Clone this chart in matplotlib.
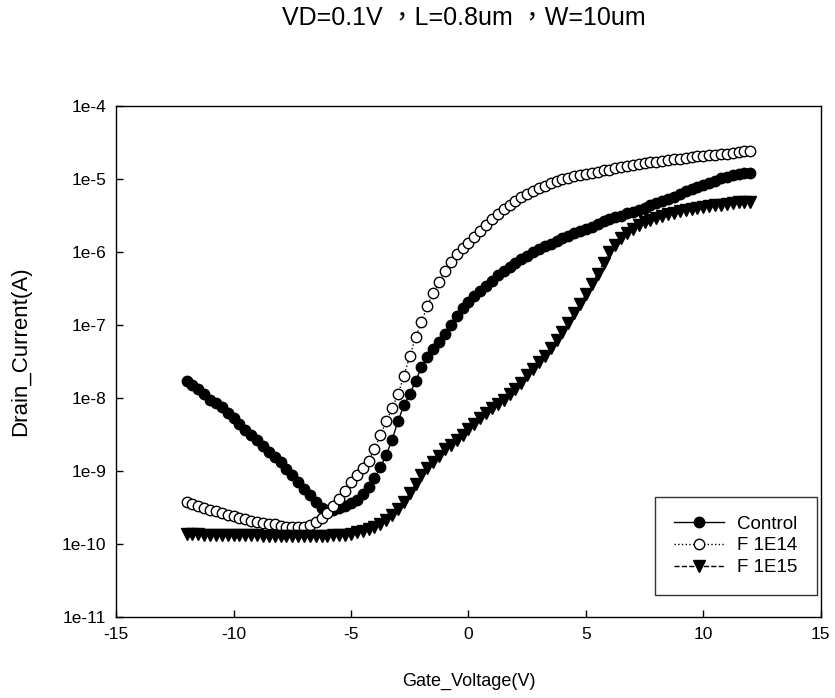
import matplotlib
matplotlib.use('Agg')
import matplotlib.pyplot as plt
from matplotlib.ticker import FixedLocator, FuncFormatter
import numpy as np

plt.rcParams['font.family'] = ['Liberation Sans', 'Noto Sans CJK TC', 'DejaVu Sans']
plt.rcParams['axes.unicode_minus'] = False

# gate sweep, -12 V .. 12 V in 0.25 V steps
gate_voltage = np.arange(-12, 12.001, 0.25)

# log10 of drain current (A), one row per volt
control_log = [
    -7.76, -7.82, -7.88, -7.95,
    -8.02, -8.07, -8.12, -8.20,
    -8.28, -8.36, -8.44, -8.51,
    -8.58, -8.66, -8.74, -8.81,
    -8.88, -8.97, -9.06, -9.15,
    -9.24, -9.33, -9.43, -9.51,
    -9.54, -9.53, -9.51, -9.48,
    -9.44, -9.39, -9.32, -9.22,
    -9.10, -8.95, -8.78, -8.57,
    -8.32, -8.10, -7.95, -7.77,
    -7.58, -7.44, -7.33, -7.23,
    -7.12, -7.00, -6.88, -6.77,
    -6.68, -6.60, -6.53, -6.46,
    -6.39, -6.32, -6.26, -6.20,
    -6.15, -6.10, -6.05, -6.00,
    -5.96, -5.92, -5.89, -5.85,
    -5.81, -5.78, -5.74, -5.71,
    -5.68, -5.65, -5.62, -5.58,
    -5.55, -5.52, -5.50, -5.47,
    -5.45, -5.42, -5.39, -5.36,
    -5.33, -5.30, -5.27, -5.24,
    -5.20, -5.17, -5.14, -5.11,
    -5.08, -5.05, -5.02, -4.99,
    -4.97, -4.95, -4.93, -4.92,
    -4.91,
]

f1e14_log = [
    -9.42, -9.45, -9.48, -9.50,
    -9.53, -9.55, -9.58, -9.60,
    -9.62, -9.64, -9.66, -9.68,
    -9.70, -9.71, -9.72, -9.73,
    -9.75, -9.76, -9.77, -9.77,
    -9.77, -9.74, -9.70, -9.64,
    -9.57, -9.48, -9.38, -9.27,
    -9.15, -9.05, -8.96, -8.86,
    -8.70, -8.51, -8.32, -8.14,
    -7.95, -7.70, -7.43, -7.17,
    -6.96, -6.74, -6.56, -6.41,
    -6.26, -6.13, -6.03, -5.95,
    -5.88, -5.80, -5.71, -5.63,
    -5.55, -5.48, -5.41, -5.35,
    -5.30, -5.25, -5.20, -5.16,
    -5.12, -5.09, -5.06, -5.03,
    -5.00, -4.98, -4.96, -4.95,
    -4.93, -4.91, -4.90, -4.88,
    -4.87, -4.85, -4.84, -4.82,
    -4.81, -4.80, -4.78, -4.77,
    -4.76, -4.75, -4.74, -4.73,
    -4.72, -4.71, -4.70, -4.69,
    -4.68, -4.67, -4.67, -4.66,
    -4.65, -4.64, -4.63, -4.62,
    -4.61,
]

f1e15_log = [
    -9.86, -9.86, -9.86, -9.87,
    -9.87, -9.87, -9.87, -9.88,
    -9.88, -9.88, -9.88, -9.88,
    -9.88, -9.89, -9.89, -9.89,
    -9.89, -9.89, -9.89, -9.89,
    -9.89, -9.89, -9.89, -9.89,
    -9.89, -9.88, -9.88, -9.87,
    -9.86, -9.84, -9.82, -9.79,
    -9.76, -9.72, -9.67, -9.60,
    -9.52, -9.42, -9.30, -9.18,
    -9.06, -8.96, -8.88, -8.79,
    -8.70, -8.64, -8.57, -8.50,
    -8.43, -8.35, -8.27, -8.20,
    -8.14, -8.08, -8.02, -7.95,
    -7.88, -7.79, -7.69, -7.60,
    -7.51, -7.42, -7.32, -7.21,
    -7.09, -6.97, -6.84, -6.71,
    -6.58, -6.44, -6.30, -6.15,
    -6.00, -5.90, -5.81, -5.74,
    -5.68, -5.63, -5.59, -5.56,
    -5.53, -5.50, -5.48, -5.46,
    -5.44, -5.42, -5.41, -5.39,
    -5.38, -5.37, -5.36, -5.35,
    -5.34, -5.33, -5.32, -5.32,
    -5.31,
]

series_labels = ['Control', 'F 1E14', 'F 1E15']
x_ticks = [-15, -10, -5, 0, 5, 10, 15]
y_ticks = [1e-11, 1e-10, 1e-9, 1e-8, 1e-7, 1e-6, 1e-5, 1e-4]

fig = plt.figure(figsize=(8.35, 6.98), dpi=100)
ax = fig.add_axes([0.139, 0.116, 0.844, 0.732])

ax.plot(gate_voltage, 10 ** np.array(control_log), color='black', lw=1, ls='-',
        marker='o', ms=7.5, mfc='black', mec='black', label=series_labels[0])
ax.plot(gate_voltage, 10 ** np.array(f1e14_log), color='black', lw=1, ls=':',
        marker='o', ms=7.5, mfc='white', mec='black', mew=1, label=series_labels[1])
ax.plot(gate_voltage, 10 ** np.array(f1e15_log), color='black', lw=1, ls='--',
        marker='v', ms=8, mfc='black', mec='black', label=series_labels[2])

ax.set_yscale('log')
ax.set_xlim(-15, 15)
ax.set_ylim(1e-11, 1e-4)
ax.xaxis.set_major_locator(FixedLocator(x_ticks))
ax.yaxis.set_major_locator(FixedLocator(y_ticks))
ax.yaxis.set_minor_locator(FixedLocator([]))
ax.yaxis.set_major_formatter(FuncFormatter(lambda v, p: '1e-%d' % round(-np.log10(v))))
ax.tick_params(direction='in', length=5, width=1, labelsize=12.5, pad=7)
for s in ax.spines.values():
    s.set_linewidth(1)

ax.set_xlabel('Gate_Voltage(V)', fontsize=13)
ax.set_ylabel('Drain_Current(A)', fontsize=16)
ax.xaxis.set_label_coords(0.5, -0.11)
ax.yaxis.set_label_coords(-0.12, 0.52)

fig.text(0.556, 0.974, 'VD=0.1V \uff0cL=0.8um \uff0cW=10um', ha='center', va='center',
         fontsize=18)

leg = ax.legend(loc='lower right', bbox_to_anchor=(0.994, 0.043), borderaxespad=0,
                fontsize=13.5, frameon=True, fancybox=False, edgecolor='black',
                handlelength=2.7, handletextpad=0.7, borderpad=1.0, labelspacing=0.25)
leg.get_frame().set_linewidth(1)

fig.savefig('out.png', dpi=100)
